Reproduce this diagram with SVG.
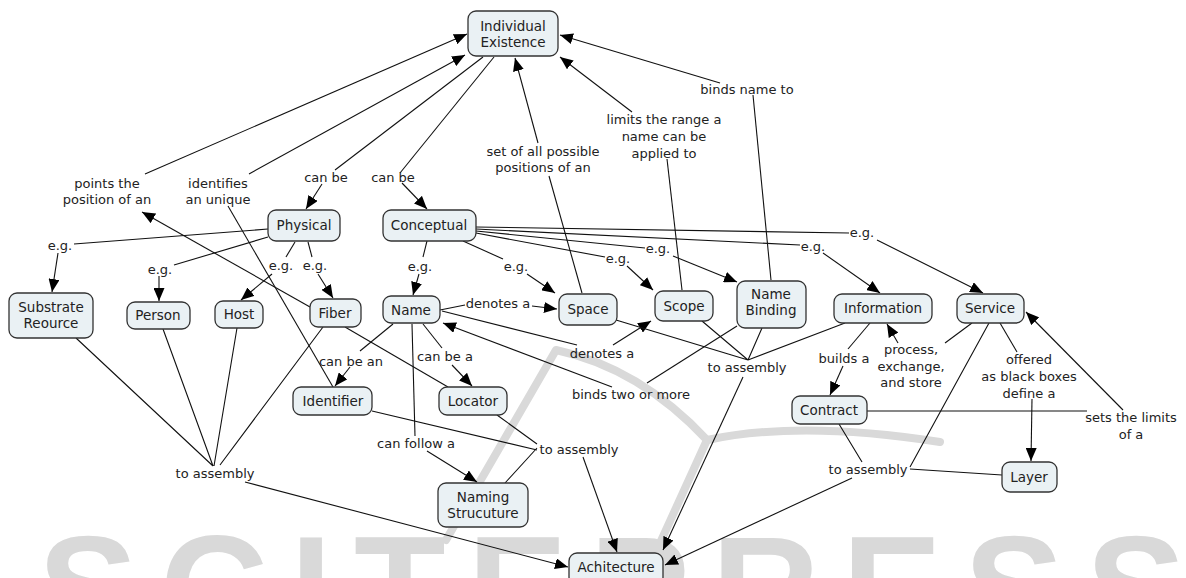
<svg xmlns="http://www.w3.org/2000/svg" width="1186" height="578" viewBox="0 0 1186 578">
<style>
.wm{font-family:"Liberation Sans",Arial,sans-serif;font-weight:bold;font-size:150px;fill:#d9d9d9}
.sw{fill:none;stroke:#d9d9d9;stroke-width:8;stroke-linecap:round;stroke-linejoin:round}
.n rect{fill:#eaf1f4;stroke:#333;stroke-width:1.3}
.n text{font-family:"DejaVu Sans",Verdana,sans-serif;font-size:13.5px;fill:#222;text-anchor:middle}
.lbl{font-family:"DejaVu Sans",Verdana,sans-serif;font-size:13px;fill:#222;text-anchor:middle}
.c path{fill:none;stroke:#111;stroke-width:1.1}
.c path.a{marker-end:url(#ah)}
</style>
<defs>
<marker id="ah" markerUnits="userSpaceOnUse" markerWidth="13" markerHeight="11" refX="13" refY="5.5" orient="auto">
<path d="M0,0 L13,5.5 L0,11 z" fill="#000"/>
</marker>
</defs>
<rect width="1186" height="578" fill="#fff"/>
<g id="watermark">
<path class="sw" d="M446,540 L556,350 Q640,368 707,440 L650,565"/>
<path class="sw" d="M707,440 Q800,420 940,442"/>
<text class="wm" x="38" y="641" textLength="1148" lengthAdjust="spacing">SCITEPRESS</text>
</g>
<g id="connectors" class="c">
<path class="a" d="M310,307 L142,212"/>
<path class="a" d="M145,174 L467,34"/>
<path d="M333,387 L228,206"/>
<path class="a" d="M249,174 L465,55"/>
<path d="M483,57 L335,170"/>
<path class="a" d="M322,184 L306,209"/>
<path d="M494,57 L400,173"/>
<path class="a" d="M402,183 L427,209"/>
<path d="M582,293 L549,176"/>
<path class="a" d="M538,143 L515,58"/>
<path d="M682,290 L667,159"/>
<path class="a" d="M632,112 L560,57"/>
<path d="M771,280 L753,95"/>
<path class="a" d="M720,83 L560,35"/>
<path d="M268,229 L74,244"/>
<path class="a" d="M58,253 L52,292"/>
<path d="M268,237 L174,265"/>
<path class="a" d="M159,276 L159,301"/>
<path d="M295,242 L286,257"/>
<path class="a" d="M272,274 L241,300"/>
<path d="M308,242 L312,257"/>
<path class="a" d="M318,274 L333,298"/>
<path d="M427,241 L423,257"/>
<path class="a" d="M419,274 L413,295"/>
<path d="M463,241 L503,259"/>
<path class="a" d="M527,274 L555,293"/>
<path d="M476,233 L605,257"/>
<path class="a" d="M627,266 L653,290"/>
<path d="M476,231 L645,248"/>
<path class="a" d="M673,256 L737,282"/>
<path d="M476,229 L800,245"/>
<path class="a" d="M823,253 L880,293"/>
<path d="M476,227 L849,233"/>
<path class="a" d="M877,240 L983,293"/>
<path d="M440,310 L465,305"/>
<path class="a" d="M532,306 L557,309"/>
<path d="M442,311 L577,345"/>
<path class="a" d="M613,345 L651,321"/>
<path d="M737,326 L647,383"/>
<path class="a" d="M612,387 L443,323"/>
<path d="M393,324 L360,351"/>
<path class="a" d="M350,367 L335,386"/>
<path d="M423,324 L442,348"/>
<path class="a" d="M452,365 L472,386"/>
<path d="M412,324 L415,436"/>
<path class="a" d="M427,451 L477,482"/>
<path d="M345,327 L448,387"/>
<path d="M76,338 L213,466 M163,329 L213,466 M237,328 L214,466 M323,327 L220,465"/>
<path class="a" d="M245,482 L568,567"/>
<path d="M372,411 L537,450 M497,415 L537,444 M505,483 L537,448"/>
<path class="a" d="M583,457 L617,552"/>
<path d="M616,320 L748,360 M702,321 L748,360 M762,328 L748,360 M845,323 L748,360"/>
<path class="a" d="M743,377 L663,550"/>
<path d="M870,323 L848,349"/>
<path class="a" d="M843,366 L830,395"/>
<path d="M972,323 L945,343"/>
<path class="a" d="M898,343 L887,324"/>
<path d="M1000,323 L1017,352"/>
<path class="a" d="M1032,399 L1031,461"/>
<path d="M867,411 L1087,411"/>
<path class="a" d="M1123,410 L1026,312"/>
<path d="M839,424 L862,462 M989,323 L910,467 M1002,475 L910,469"/>
<path class="a" d="M852,478 L665,565"/>
</g>
<g id="labels">
<text class="lbl" x="107" y="188">points the</text>
<text class="lbl" x="107" y="204">position of an</text>
<text class="lbl" x="218" y="188">identifies</text>
<text class="lbl" x="218" y="204">an unique</text>
<text class="lbl" x="326" y="182">can be</text>
<text class="lbl" x="393" y="182">can be</text>
<text class="lbl" x="543" y="156">set of all possible</text>
<text class="lbl" x="543" y="172">positions of an</text>
<text class="lbl" x="664" y="124">limits the range a</text>
<text class="lbl" x="664" y="141">name can be</text>
<text class="lbl" x="664" y="158">applied to</text>
<text class="lbl" x="747" y="94">binds name to</text>
<text class="lbl" x="60" y="250">e.g.</text>
<text class="lbl" x="160" y="274">e.g.</text>
<text class="lbl" x="281" y="270">e.g.</text>
<text class="lbl" x="315" y="270">e.g.</text>
<text class="lbl" x="420" y="271">e.g.</text>
<text class="lbl" x="516" y="271">e.g.</text>
<text class="lbl" x="618" y="263">e.g.</text>
<text class="lbl" x="658" y="253">e.g.</text>
<text class="lbl" x="813" y="251">e.g.</text>
<text class="lbl" x="862" y="237">e.g.</text>
<text class="lbl" x="498" y="308">denotes a</text>
<text class="lbl" x="602" y="358">denotes a</text>
<text class="lbl" x="631" y="399">binds two or more</text>
<text class="lbl" x="351" y="366">can be an</text>
<text class="lbl" x="445" y="361">can be a</text>
<text class="lbl" x="416" y="448">can follow a</text>
<text class="lbl" x="579" y="454">to assembly</text>
<text class="lbl" x="215" y="478">to assembly</text>
<text class="lbl" x="747" y="372">to assembly</text>
<text class="lbl" x="868" y="474">to assembly</text>
<text class="lbl" x="844" y="363">builds a</text>
<text class="lbl" x="911" y="354">process,</text>
<text class="lbl" x="911" y="371">exchange,</text>
<text class="lbl" x="911" y="387">and store</text>
<text class="lbl" x="1029" y="364">offered</text>
<text class="lbl" x="1029" y="381">as black boxes</text>
<text class="lbl" x="1029" y="398">define a</text>
<text class="lbl" x="1131" y="422">sets the limits</text>
<text class="lbl" x="1131" y="439">of a</text>
</g>
<g id="n-individual-existence" class="n"><rect x="468" y="11" width="90" height="45" rx="8"/><text x="513" y="31">Individual</text><text x="513" y="47">Existence</text></g>
<g id="n-physical" class="n"><rect x="268" y="210" width="72" height="31" rx="8"/><text x="304" y="230">Physical</text></g>
<g id="n-conceptual" class="n"><rect x="383" y="210" width="93" height="31" rx="8"/><text x="429" y="230">Conceptual</text></g>
<g id="n-substrate" class="n"><rect x="9" y="293" width="84" height="45" rx="8"/><text x="51" y="312">Substrate</text><text x="51" y="328">Reource</text></g>
<g id="n-person" class="n"><rect x="127" y="302" width="63" height="27" rx="8"/><text x="158" y="320">Person</text></g>
<g id="n-host" class="n"><rect x="215" y="301" width="48" height="27" rx="8"/><text x="239" y="319">Host</text></g>
<g id="n-fiber" class="n"><rect x="310" y="299" width="51" height="28" rx="8"/><text x="335" y="318">Fiber</text></g>
<g id="n-name" class="n"><rect x="383" y="296" width="57" height="27" rx="8"/><text x="411" y="315">Name</text></g>
<g id="n-space" class="n"><rect x="559" y="294" width="58" height="31" rx="8"/><text x="588" y="314">Space</text></g>
<g id="n-scope" class="n"><rect x="655" y="291" width="58" height="30" rx="8"/><text x="684" y="311">Scope</text></g>
<g id="n-name-binding" class="n"><rect x="737" y="281" width="69" height="47" rx="8"/><text x="771" y="299">Name</text><text x="771" y="315">Binding</text></g>
<g id="n-information" class="n"><rect x="834" y="294" width="98" height="29" rx="8"/><text x="883" y="313">Information</text></g>
<g id="n-service" class="n"><rect x="957" y="294" width="67" height="29" rx="8"/><text x="990" y="313">Service</text></g>
<g id="n-identifier" class="n"><rect x="293" y="387" width="79" height="28" rx="8"/><text x="333" y="406">Identifier</text></g>
<g id="n-locator" class="n"><rect x="439" y="387" width="68" height="28" rx="8"/><text x="473" y="406">Locator</text></g>
<g id="n-naming-structure" class="n"><rect x="438" y="483" width="90" height="44" rx="8"/><text x="483" y="502">Naming</text><text x="483" y="518">Strucuture</text></g>
<g id="n-contract" class="n"><rect x="792" y="396" width="75" height="28" rx="8"/><text x="829" y="415">Contract</text></g>
<g id="n-layer" class="n"><rect x="1002" y="462" width="55" height="30" rx="8"/><text x="1029" y="482">Layer</text></g>
<g id="n-achitecture" class="n"><rect x="569" y="553" width="94" height="32" rx="8"/><text x="616" y="572">Achitecture</text></g>
</svg>
